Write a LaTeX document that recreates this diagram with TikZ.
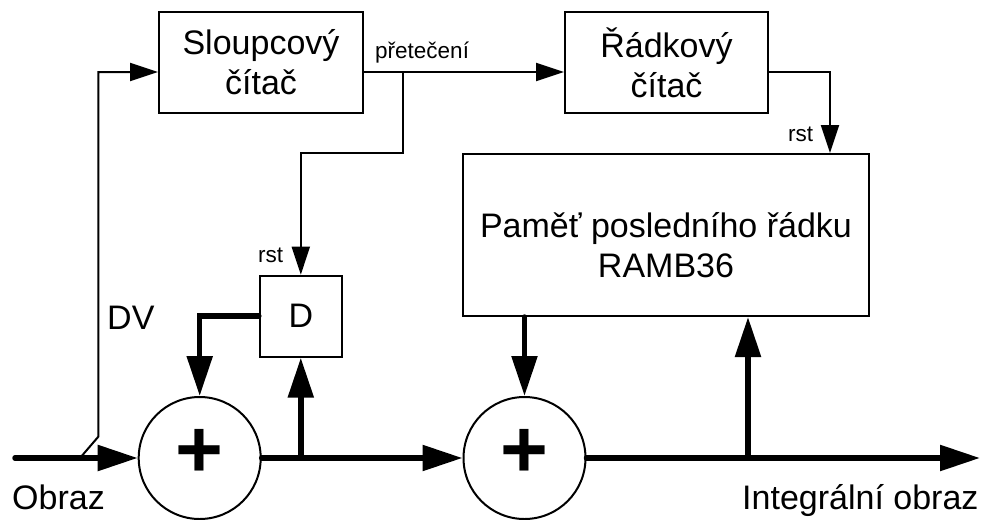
\documentclass[tikz,border=0pt]{standalone}
\usepackage{fontspec}
\setmainfont{Liberation Sans}
\usetikzlibrary{arrows.meta,positioning}

\begin{document}
\begin{tikzpicture}[
  x=1pt, y=-1pt,
  font=\fontsize{34}{40}\selectfont,
  box/.style={draw,line width=2pt,inner sep=0pt,align=center},
  sumnode/.style={draw,circle,line width=2pt,minimum size=122pt,inner sep=0pt},
  plus/.style={font=\fontsize{82}{82}\selectfont\bfseries,inner sep=0pt},
  small/.style={font=\fontsize{22.5}{26}\selectfont,inner sep=0pt,anchor=base west},
  lbl/.style={inner sep=0pt,anchor=base west},
  wire/.style={line width=2pt},
  flow/.style={wire,-{Triangle[length=28pt,width=18pt]}},
  bus/.style={line width=5.5pt,line cap=round,-{Triangle[length=40pt,width=25pt]}}
]
\useasboundingbox[fill=white] (0,0) rectangle (981,519);

% blocks
\node[box,minimum width=204pt,minimum height=101pt] (sloup) at (261,62.5) {Sloupcový\\čítač};
\node[box,minimum width=203pt,minimum height=101pt] (rad) at (666.5,62.5) {Řádkový\\čítač};
\node[box,minimum width=406pt,minimum height=162pt] (ram) at (666,235) {};
\node[align=center,inner sep=0pt] (ramtxt) at ([yshift=-10pt]ram.center) {Paměť posledního řádku\\RAMB36};
\node[box,minimum width=82pt,minimum height=81pt] (dreg) at (300.8,316.2) {D};
\node[sumnode] (sum1) at (199.7,458) {};
\node[sumnode] (sum2) at (524.5,458) {};
\node[plus] at ([yshift=4.5pt]sum1) {+};
\node[plus] at ([yshift=4.5pt]sum2) {+};

% points on the wires
\coordinate (ovf) at ([yshift=-9.5pt]sloup.east);
\coordinate (tap) at (402.7,72);
\coordinate (in) at (15,458);
\coordinate (dvtap) at (80,458);
\coordinate (out) at (980,458);
\coordinate (j1) at (dreg.south |- sum1.east);
\coordinate (j2) at (748,458);

% control wires
\draw[flow] (ovf) -- (ovf -| rad.west);
\draw[flow] (tap) -- ++(0,81.3) -| (dreg.north);
\draw[flow] (rad.east |- ovf) -| ([xshift=-40pt]ram.north east);
\draw[flow] (dvtap) -- ++(18.3,-21.3) |- (sloup.west |- ovf);

% data path
\draw[bus] (in) -- (sum1.west);
\draw[bus] (sum1.east) -- (sum2.west);
\draw[bus] (sum2.east) -- (out);
\draw[bus] (j1) -- (dreg.south);
\draw[bus] (dreg.west) -| (sum1.north);
\draw[bus] (sum2.north |- ram.south) -- (sum2.north);
\draw[bus] (j2) -- (j2 |- ram.south);

% labels
\node[small] (lovf) at (375,59) {přetečení};
\node[small] (lrst1) at (258,262) {rst};
\node[small] (lrst2) at (788,141) {rst};
\node[lbl] (ldv) at (107,329) {DV};
\node[lbl] (lin) at (12,509) {Obraz};
\node[lbl] (lout) at (742,509) {Integrální obraz};
\end{tikzpicture}
\end{document}
